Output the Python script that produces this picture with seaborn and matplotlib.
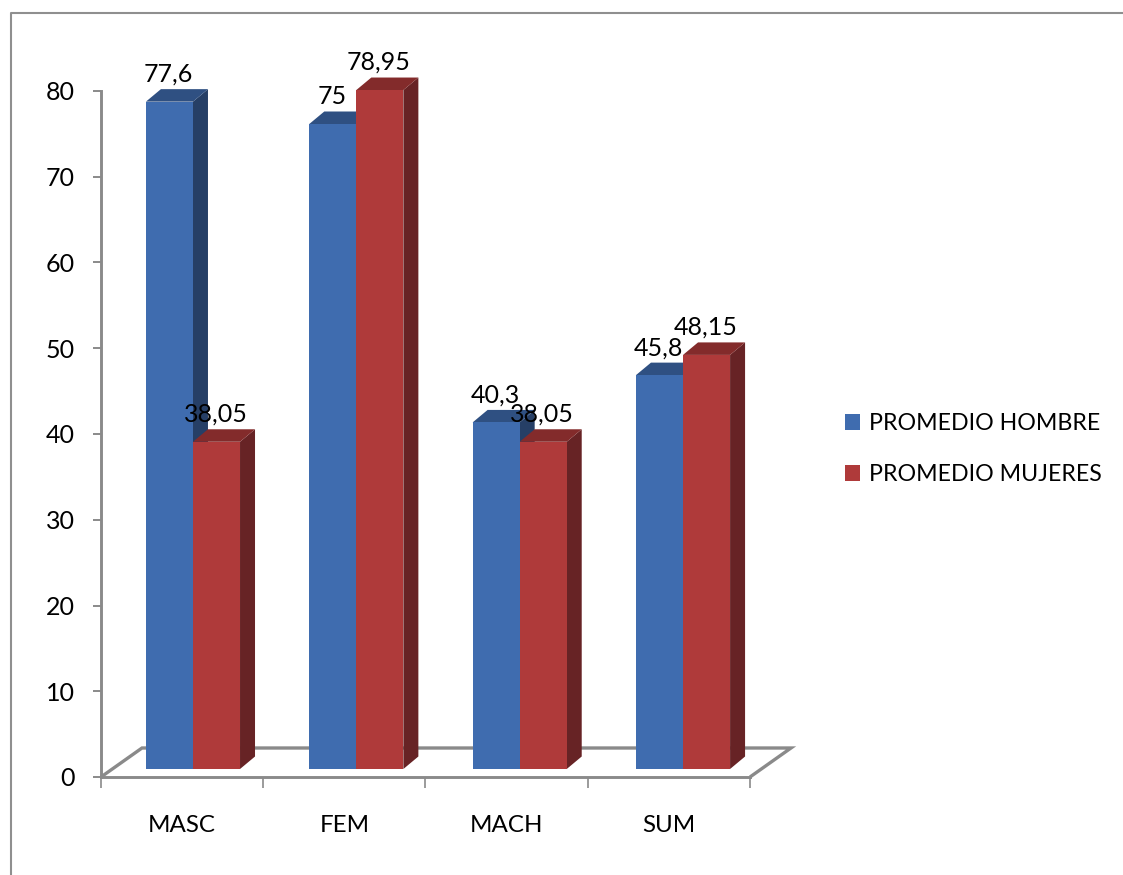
import matplotlib
matplotlib.use("Agg")
import matplotlib.pyplot as plt
from matplotlib.lines import Line2D
from matplotlib.patches import Polygon
import pandas as pd
import seaborn as sns

categories = ["MASC", "FEM", "MACH", "SUM"]
series_names = ["PROMEDIO HOMBRE", "PROMEDIO MUJERES"]
hombre = [77.6, 75, 40.3, 45.8]
mujeres = [38.05, 78.95, 38.05, 48.15]
y_ticks = [0, 10, 20, 30, 40, 50, 60, 70, 80]

FIG_W, FIG_H = 1123, 875
AXIS_LEFT, AXIS_RIGHT = 101, 750
AXIS_BASE, AXIS_TOP = 777, 91
BAR_LEFT, BAR_RIGHT, BAR_BASE = 111.3, 764.7, 769
BAR_PX_PER_UNIT = 8.6
BAR_DEPTH = (15, 12.5)
FLOOR_DEPTH = (41, 29)

GRID = "#8a8a8a"
FRONT = ["#3F6CAF", "#AF3A3A"]
TOP = ["#2F5082", "#832B2B"]
SIDE = ["#263F66", "#672325"]
FONT = 18
LABEL_FONT = 17.4
LEGEND_FONT = 16.7

sns.set_style("white")
plt.rcParams["font.family"] = ["Lato", "DejaVu Sans"]

fig = plt.figure(figsize=(FIG_W / 100, FIG_H / 100), dpi=100)


def box(left, right, bottom, top):
    return [left / FIG_W, 1 - bottom / FIG_H, (right - left) / FIG_W, (bottom - top) / FIG_H]


# Axis frame: value scale, category ticks and the floor of the 3D box
frame = fig.add_axes(box(AXIS_LEFT, AXIS_RIGHT, AXIS_BASE, AXIS_TOP))
frame.set_xlim(0, len(categories))
frame.set_ylim(0, 80)
for name in ("top", "right"):
    frame.spines[name].set_visible(False)
for name in ("left", "bottom"):
    frame.spines[name].set_color(GRID)
    frame.spines[name].set_linewidth(2.1)
frame.set_yticks(y_ticks)
frame.tick_params(axis="y", left=True, length=5.8, width=1.4, color=GRID, pad=13,
                  labelsize=FONT, labelcolor="black")
frame.set_xticks(range(len(categories) + 1))
frame.set_xticklabels([])
frame.set_xticks([i + 0.5 for i in range(len(categories))], categories, minor=True)
frame.tick_params(axis="x", which="major", bottom=True, length=8, width=1.2, color=GRID)
frame.tick_params(axis="x", which="minor", bottom=False, length=0, pad=27,
                  labelsize=LABEL_FONT, labelcolor="black")

px_x = len(categories) / (AXIS_RIGHT - AXIS_LEFT)
px_y = 80 / (AXIS_BASE - AXIS_TOP)
fdx, fdy = FLOOR_DEPTH[0] * px_x, FLOOR_DEPTH[1] * px_y
frame.add_patch(Polygon(
    [(0, 0), (fdx, fdy), (len(categories) + fdx, fdy), (len(categories), 0)],
    closed=False, fill=False, edgecolor=GRID, linewidth=2.4, clip_on=False,
    joinstyle="miter", zorder=2,
))

# Bars are set slightly back from the axis plane, inside the floor
ax = fig.add_axes(box(BAR_LEFT, BAR_RIGHT, BAR_BASE, BAR_BASE - 80 * BAR_PX_PER_UNIT))
ax.patch.set_alpha(0)
table = pd.DataFrame({
    "categoria": categories * 2,
    "serie": [series_names[0]] * 4 + [series_names[1]] * 4,
    "valor": hombre + mujeres,
})
sns.barplot(data=table, x="categoria", y="valor", hue="serie", hue_order=series_names,
            palette=FRONT, width=0.576, gap=0, saturation=1, linewidth=0, ax=ax, zorder=3)
handles, labels = ax.get_legend_handles_labels()
ax.get_legend().remove()
ax.set_xlim(-0.5, len(categories) - 0.5)
ax.set_ylim(0, 80)
ax.axis("off")

# Side and top faces of each bar, built from the bar rectangles
ddx = BAR_DEPTH[0] * len(categories) / (BAR_RIGHT - BAR_LEFT)
ddy = BAR_DEPTH[1] / BAR_PX_PER_UNIT
for s, container in enumerate(ax.containers):
    for bar in container:
        x0, x1 = bar.get_x(), bar.get_x() + bar.get_width()
        h = bar.get_height()
        ax.add_patch(Polygon([(x1, 0), (x1 + ddx, ddy), (x1 + ddx, h + ddy), (x1, h)],
                             facecolor=SIDE[s], edgecolor="none", clip_on=False, zorder=1 + s))
        ax.add_patch(Polygon([(x0, h), (x0 + ddx, h + ddy), (x1 + ddx, h + ddy), (x1, h)],
                             facecolor=TOP[s], edgecolor="none", clip_on=False, zorder=1 + s))
        ax.annotate(f"{h:g}".replace(".", ","), (bar.get_x() + bar.get_width() / 2, h),
                    xytext=(-0.7, 19.8), textcoords="offset points", ha="center", va="center",
                    fontsize=FONT, color="black", annotation_clip=False, zorder=5)

for handle in handles:
    handle.set_linewidth(0)
fig.legend(handles, labels, loc="center left", bbox_to_anchor=(845 / FIG_W, 1 - 449 / FIG_H),
           frameon=False, fontsize=LEGEND_FONT, handlelength=0.65, handleheight=0.65,
           handletextpad=0.38, labelspacing=1.3, labelcolor="black", borderpad=0, borderaxespad=0)

# Chart-area border running off the right and bottom edges
fig.add_artist(Line2D([10.5 / FIG_W, 10.5 / FIG_W, 1], [0, 1 - 12.5 / FIG_H, 1 - 12.5 / FIG_H],
                      color="#8f8f8f", linewidth=1.5))

fig.savefig("out.png", dpi=100)
